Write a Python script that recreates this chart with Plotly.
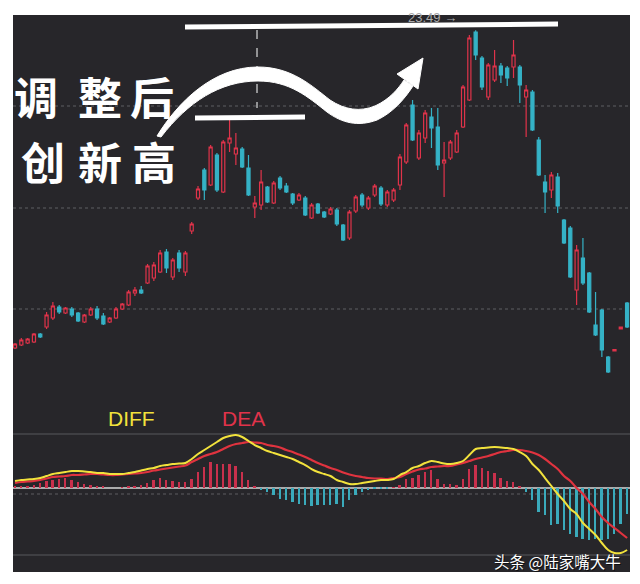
import plotly.graph_objects as go

# ---------------- data ----------------
opens = [7.60,7.75,7.85,7.90,8.30,8.65,9.10,9.65,9.35,9.55,
         9.35,8.90,9.25,9.55,9.20,8.90,9.10,9.55,9.75,10.35,
         10.50,10.85,11.10,11.40,12.40,11.15,12.35,11.40,13.45,15.10,
         16.50,15.75,17.25,15.40,17.85,17.30,17.55,16.60,14.65,14.75,
         15.65,14.85,16.10,15.70,15.30,15.00,15.10,14.10,14.80,14.40,
         14.30,14.50,13.75,13.10,14.45,15.25,14.60,15.25,15.60,14.75,
         15.00,15.75,16.90,19.75,17.10,18.10,19.15,18.65,16.85,17.10,
         17.40,18.65,20.00,23.40,22.10,20.15,21.00,21.70,21.60,21.65,
         21.65,20.15,20.40,18.00,15.90,15.50,16.15,14.00,13.60,10.50,
         12.10,11.35,8.75,9.50,7.15,7.45,8.55,9.85]
closes = [7.80,8.00,8.05,8.30,8.15,9.25,9.70,9.40,9.60,9.25,
          8.95,9.25,9.55,9.10,8.80,9.10,9.55,9.80,10.40,10.50,
          10.35,11.70,11.75,12.35,11.60,12.00,11.60,12.35,13.80,15.55,
          15.50,17.65,15.50,17.90,18.10,17.60,16.65,15.25,14.85,15.90,
          14.90,15.85,15.60,15.40,14.85,15.25,14.25,14.75,14.35,14.15,
          14.55,13.80,13.00,14.40,15.15,14.75,15.10,15.70,14.80,15.40,
          15.50,17.15,18.75,18.00,18.35,19.35,18.60,16.75,17.00,17.90,
          18.35,20.65,23.10,22.25,20.65,21.75,21.70,21.25,21.10,22.25,
          20.75,20.50,18.50,16.25,15.40,16.25,14.70,12.85,11.15,12.50,
          10.85,9.40,8.25,7.50,6.40,7.52,8.65,8.65]
highs = [7.85,8.10,8.10,8.35,8.35,9.40,9.90,9.75,9.65,9.65,
         9.40,9.30,9.65,9.70,9.35,9.15,9.65,9.85,10.50,10.65,
         10.70,11.80,11.90,12.50,12.55,12.10,12.50,12.45,13.90,15.70,
         16.60,17.75,17.35,18.00,19.00,18.35,17.65,17.25,15.20,16.50,
         15.70,15.95,16.20,15.85,15.35,15.35,15.20,14.85,14.85,14.45,
         14.65,14.60,13.80,14.50,15.25,15.35,15.20,15.80,15.70,15.50,
         15.60,17.30,18.85,20.00,18.50,19.50,19.60,19.60,17.90,18.00,
         18.50,20.75,23.25,23.49,22.20,21.85,22.50,21.85,21.70,23.00,
         21.75,20.75,20.50,18.15,16.25,16.40,16.35,14.05,13.70,12.75,
         13.10,11.40,10.40,9.55,7.20,7.55,8.65,9.90]
lows = [7.55,7.70,7.80,7.85,8.10,8.55,9.00,9.30,9.30,9.15,
        8.90,8.85,9.20,9.00,8.75,8.85,9.05,9.50,9.70,10.20,
        10.30,10.80,10.95,11.35,11.35,11.00,11.40,11.20,13.30,15.00,
        15.00,15.70,15.40,15.35,17.40,16.75,16.60,15.20,14.10,14.50,
        14.85,14.80,15.50,15.35,14.75,14.95,14.20,14.05,14.30,14.10,
        14.25,13.70,12.95,13.00,14.35,14.65,14.50,15.15,14.70,14.65,
        14.90,15.50,16.80,17.95,17.00,17.85,17.60,16.50,15.15,17.00,
        17.35,18.60,19.95,22.00,20.50,20.00,20.90,20.85,20.70,21.10,
        19.85,18.15,18.45,16.20,14.35,15.10,14.35,12.80,11.10,9.75,
        10.75,9.35,8.20,7.15,6.35,7.45,8.55,8.60]

diff = [0.14,0.16,0.17,0.18,0.20,0.24,0.28,0.30,0.32,0.34,
        0.34,0.33,0.32,0.30,0.30,0.28,0.28,0.28,0.30,0.32,
        0.35,0.38,0.40,0.44,0.46,0.48,0.49,0.50,0.58,0.68,
        0.76,0.84,0.92,1.00,1.04,1.06,1.02,0.94,0.86,0.80,
        0.74,0.70,0.66,0.62,0.58,0.52,0.46,0.38,0.32,0.28,
        0.24,0.16,0.12,0.08,0.08,0.10,0.12,0.14,0.16,0.16,
        0.18,0.26,0.32,0.40,0.44,0.50,0.54,0.52,0.49,0.48,
        0.50,0.54,0.66,0.78,0.80,0.81,0.82,0.81,0.80,0.78,
        0.72,0.64,0.48,0.36,0.20,0.04,-0.12,-0.26,-0.42,-0.52,
        -0.70,-0.82,-0.94,-1.10,-1.24,-1.30,-1.30,-1.24]
dea = [0.10,0.12,0.13,0.14,0.16,0.19,0.22,0.23,0.24,0.26,
       0.26,0.27,0.28,0.28,0.27,0.26,0.26,0.27,0.28,0.29,
       0.30,0.32,0.35,0.37,0.39,0.41,0.43,0.45,0.52,0.58,
       0.64,0.68,0.72,0.78,0.84,0.88,0.90,0.92,0.91,0.90,
       0.86,0.84,0.81,0.76,0.72,0.67,0.62,0.56,0.50,0.45,
       0.40,0.36,0.31,0.27,0.24,0.22,0.20,0.19,0.19,0.18,
       0.20,0.22,0.28,0.33,0.37,0.39,0.42,0.43,0.44,0.44,
       0.47,0.50,0.54,0.58,0.61,0.64,0.68,0.72,0.74,0.76,
       0.76,0.74,0.71,0.66,0.58,0.48,0.38,0.24,0.14,0.00,
       -0.12,-0.28,-0.42,-0.58,-0.70,-0.80,-0.90,-1.00]
macd_hist = [0.02,0.04,0.04,0.06,0.10,0.14,0.16,0.18,0.20,0.16,
             0.12,0.08,0.06,0.04,0.02,0.00,0.00,0.01,0.02,0.03,
             0.06,0.10,0.16,0.20,0.16,0.14,0.12,0.12,0.18,0.32,
             0.42,0.52,0.48,0.48,0.48,0.44,0.32,0.16,0.02,-0.04,
             -0.08,-0.14,-0.22,-0.24,-0.28,-0.32,-0.34,-0.36,-0.34,-0.34,
             -0.34,-0.32,-0.38,-0.24,-0.14,-0.08,-0.04,-0.02,-0.02,-0.01,
             0.01,0.06,0.18,0.20,0.26,0.32,0.36,0.18,0.08,0.08,
             0.06,0.18,0.38,0.46,0.40,0.34,0.30,0.20,0.14,0.12,
             0.02,-0.08,-0.24,-0.48,-0.54,-0.74,-0.72,-0.84,-0.92,-0.98,
             -1.02,-1.04,-1.02,-1.04,-1.02,-0.92,-0.72,-0.52]

price_grid = [19.70, 14.60, 9.55]
max_label = "23.49"
headline_1 = ["调", "整", "后"]
headline_2 = ["创", "新", "高"]
watermark = "头条 @陆家嘴大牛"

# ---------------- styling ----------------
BG = "#27262a"
RED = "#e0334a"
CYAN = "#35b2c6"
HRED = "#c9304c"
HCYAN = "#3aaabb"
YEL = "#f2e23c"

x = list(range(len(opens)))

fig = go.Figure()
fig.add_trace(go.Candlestick(
    x=x, open=opens, high=highs, low=lows, close=closes,
    increasing=dict(line=dict(color=RED, width=1.2), fillcolor=BG),
    decreasing=dict(line=dict(color=CYAN, width=1.2), fillcolor=CYAN),
    whiskerwidth=0, xaxis="x", yaxis="y", hoverinfo="skip", showlegend=False))

fig.add_trace(go.Bar(
    x=x, y=macd_hist, width=0.3,
    marker=dict(color=[HRED if v >= 0 else HCYAN for v in macd_hist], line=dict(width=0)),
    xaxis="x2", yaxis="y2", showlegend=False, hoverinfo="skip"))
fig.add_trace(go.Scatter(x=x, y=dea, mode="lines", line=dict(color="#e0333f", width=2.2, shape="spline"),
                         xaxis="x2", yaxis="y2", showlegend=False, hoverinfo="skip"))
fig.add_trace(go.Scatter(x=x, y=diff, mode="lines", line=dict(color=YEL, width=2, shape="spline"),
                         xaxis="x2", yaxis="y2", showlegend=False, hoverinfo="skip"))
# overlay pixel-frame axis for decorations
fig.add_trace(go.Scatter(x=[13], y=[15], mode="markers", marker=dict(opacity=0),
                         xaxis="x3", yaxis="y3", showlegend=False, hoverinfo="skip"))

xr = [-0.32, 97.46]
hidden = dict(visible=False, showgrid=False, zeroline=False, fixedrange=True)
fig.update_layout(
    width=640, height=584,
    margin=dict(l=13, r=10, t=15, b=12),
    paper_bgcolor="white", plot_bgcolor="rgba(0,0,0,0)",
    xaxis=dict(domain=[0, 1], range=xr, anchor="y", rangeslider=dict(visible=False), **hidden),
    yaxis=dict(domain=[0.3088, 1], range=[5.0, 24.25], anchor="x", **hidden),
    xaxis2=dict(domain=[0, 1], range=xr, anchor="y2", **hidden),
    yaxis2=dict(domain=[0, 0.2998], range=[-1.68, 1.66], anchor="x2", **hidden),
    xaxis3=dict(domain=[0, 1], range=[13, 630], anchor="y3", **hidden),
    yaxis3=dict(domain=[0, 1], range=[572, 15], anchor="x3", **hidden),
    bargap=0,
)

shapes = []
shapes.append(dict(type="rect", xref="paper", yref="paper", x0=0, x1=1, y0=0, y1=1,
                   fillcolor=BG, line=dict(width=0), layer="below"))
for g in price_grid:
    shapes.append(dict(type="line", xref="paper", yref="y", x0=0, x1=1, y0=g, y1=g,
                       line=dict(color="#5f5e62", width=1, dash="dot"), layer="below"))
for v, col, dash, w in [(1.08, "#59585c", "solid", 1.2), (-1.34, "#59585c", "solid", 1.2),
                        (-0.12, "#5e5d61", "dot", 1), (0.0, "#d8d8d8", "solid", 1.6)]:
    shapes.append(dict(type="line", xref="paper", yref="y2", x0=0, x1=1, y0=v, y1=v,
                       line=dict(color=col, width=w, dash=dash), layer="below"))

# white hand-drawn marks (pixel frame)
shapes.append(dict(type="line", xref="x3", yref="y3", x0=185, y0=27, x1=558, y1=24,
                   line=dict(color="white", width=5)))
shapes.append(dict(type="line", xref="x3", yref="y3", x0=195, y0=118, x1=305, y1=117,
                   line=dict(color="white", width=5)))
shapes.append(dict(type="line", xref="x3", yref="y3", x0=257, y0=30, x1=257, y1=108,
                   line=dict(color="white", width=1, dash="dash")))
stroke = ("M 157,136 C 178,102 213,67 258,67 C 292,67 312,86 330,100 "
          "C 345,110 360,112 375,106 C 390,99 398,89 404,80 "
          "L 413,86 C 404,100 392,113 377,120 C 358,127 342,123 327,112 "
          "C 308,97 290,81 258,81 C 220,81 188,102 161,137 Z")
shapes.append(dict(type="path", xref="x3", yref="y3", path=stroke,
                   fillcolor="white", line=dict(color="white", width=1)))
shapes.append(dict(type="path", xref="x3", yref="y3", path="M 397,74 L 423,58 L 418,89 Z",
                   fillcolor="white", line=dict(color="white", width=1)))
fig.update_layout(shapes=shapes)

ann = []
cjk = "Noto Sans CJK SC"
for ch, cx in zip(headline_1, [36, 100, 152]):
    ann.append(dict(x=cx, y=96, text=ch, xref="x3", yref="y3", showarrow=False,
                    font=dict(family=cjk, size=44, color="white", weight="bold")))
for ch, cx in zip(headline_2, [43, 100, 154]):
    ann.append(dict(x=cx, y=161, text=ch, xref="x3", yref="y3", showarrow=False,
                    font=dict(family=cjk, size=44, color="white", weight="bold")))
ann.append(dict(x=131, y=418, text="DIFF", xref="x3", yref="y3", showarrow=False,
                font=dict(family="Liberation Sans", size=21, color=YEL)))
ann.append(dict(x=243, y=418, text="DEA", xref="x3", yref="y3", showarrow=False,
                font=dict(family="Liberation Sans", size=21, color="#e0334a")))
ann.append(dict(x=432, y=17, text=max_label + " →", xref="x3", yref="y3", showarrow=False,
                font=dict(family="Liberation Sans", size=13, color="#a9a9ab")))
ann.append(dict(x=558, y=562, text=watermark, xref="x3", yref="y3", showarrow=False,
                font=dict(family=cjk, size=15.5, color="rgba(0,0,0,0.6)")))
ann.append(dict(x=557, y=561, text=watermark, xref="x3", yref="y3", showarrow=False,
                font=dict(family=cjk, size=15.5, color="white")))
fig.update_layout(annotations=ann)

fig.write_html("out.html", config={"displayModeBar": False},
               post_script="document.body.style.margin='0px';")
